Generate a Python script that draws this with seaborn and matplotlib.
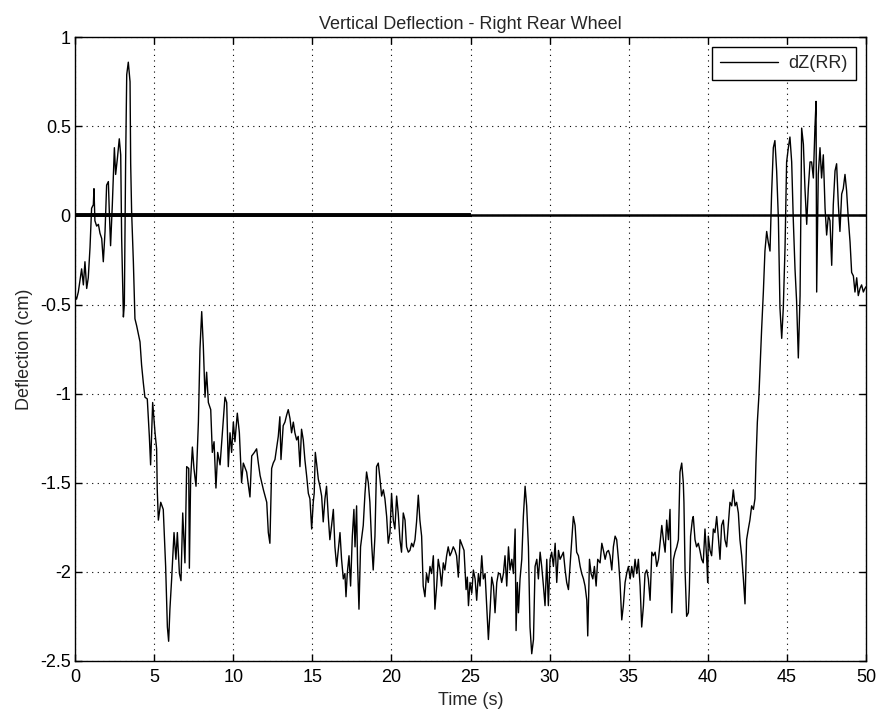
import matplotlib
matplotlib.use("Agg")
import matplotlib.pyplot as plt
import seaborn as sns
import pandas as pd

# Right rear wheel vertical deflection, sampled trace (time in s, deflection in cm)
t_start = [0.0, 0.1, 0.21, 0.32, 0.42, 0.53, 0.63, 0.74, 0.84, 0.95, 1.05, 1.16, 1.2, 1.26, 1.37,
           1.48, 1.58, 1.69, 1.79, 1.9, 2.0, 2.11, 2.17, 2.25, 2.36, 2.49, 2.57, 2.68, 2.8, 2.89,
           2.95, 3.06, 3.12, 3.2, 3.27, 3.37, 3.48, 3.52, 3.58, 3.69, 3.79]
v_start = [-0.45, -0.47, -0.43, -0.36, -0.30, -0.39, -0.26, -0.41, -0.35, -0.18, 0.04, 0.06, 0.15, -0.03, -0.06,
           -0.05, -0.10, -0.13, -0.26, -0.09, 0.17, 0.19, 0.02, -0.17, 0.06, 0.38, 0.23, 0.32, 0.43, 0.34,
           -0.13, -0.57, -0.50, 0.29, 0.79, 0.86, 0.75, 0.29, 0.02, -0.26, -0.58]

t_drop = [3.9, 4.11, 4.21, 4.32, 4.42, 4.57, 4.7, 4.78, 4.91, 5.06, 5.16, 5.2, 5.27, 5.42, 5.58,
          5.73, 5.84, 5.92, 6.0, 6.11, 6.26, 6.38, 6.47, 6.6, 6.7, 6.81, 6.95, 7.06, 7.19, 7.23,
          7.31, 7.42, 7.52, 7.65, 7.8, 7.9, 8.01, 8.11, 8.22, 8.32, 8.43, 8.58, 8.68, 8.79, 8.91,
          9.02, 9.17, 9.33, 9.48, 9.59, 9.69, 9.8, 9.9, 10.01, 10.11, 10.26, 10.39, 10.53, 10.64, 10.85,
          11.06, 11.17, 11.34, 11.48, 11.59, 11.7, 11.91, 12.12, 12.22]
v_drop = [-0.62, -0.71, -0.84, -0.94, -1.02, -1.03, -1.24, -1.40, -1.05, -1.22, -1.31, -1.54, -1.71, -1.61, -1.65,
          -1.97, -2.31, -2.39, -2.21, -2.04, -1.78, -1.93, -1.78, -2.01, -2.05, -1.67, -1.95, -1.41, -1.42, -1.98,
          -1.48, -1.30, -1.42, -1.52, -1.16, -0.75, -0.54, -0.73, -1.02, -0.88, -1.05, -1.09, -1.33, -1.27, -1.53,
          -1.33, -1.40, -1.20, -1.02, -1.05, -1.41, -1.22, -1.33, -1.16, -1.27, -1.11, -1.22, -1.50, -1.39, -1.44,
          -1.58, -1.35, -1.33, -1.31, -1.39, -1.46, -1.54, -1.61, -1.78]

t_mid = [12.32, 12.43, 12.53, 12.64, 12.74, 12.85, 12.95, 13.02, 13.16, 13.27, 13.38, 13.48, 13.59, 13.69, 13.8,
         13.9, 14.01, 14.11, 14.22, 14.32, 14.43, 14.53, 14.64, 14.75, 14.85, 14.96, 15.06, 15.12, 15.19, 15.27,
         15.38, 15.48, 15.59, 15.69, 15.8, 15.9, 16.01, 16.11, 16.22, 16.33, 16.43, 16.54, 16.64, 16.75, 16.85,
         16.96, 17.06, 17.13, 17.21, 17.32, 17.42, 17.53, 17.63, 17.7, 17.8, 17.86, 17.95, 18.05, 18.22, 18.33,
         18.43, 18.54, 18.64, 18.75, 18.85, 18.96, 19.06, 19.17, 19.28, 19.38, 19.49, 19.59, 19.7, 19.8, 19.91,
         20.01, 20.12, 20.22, 20.33, 20.43, 20.54, 20.64, 20.75, 20.86, 20.96, 21.07, 21.17, 21.28, 21.38, 21.49,
         21.59, 21.7, 21.8, 21.91, 22.01, 22.12, 22.22, 22.33, 22.44, 22.54, 22.65, 22.75, 22.86, 22.96, 23.07,
         23.17, 23.28, 23.38, 23.49, 23.59, 23.7, 23.8, 23.91, 24.02, 24.12, 24.23, 24.34]
v_mid = [-1.84, -1.42, -1.39, -1.37, -1.31, -1.24, -1.13, -1.37, -1.18, -1.16, -1.12, -1.09, -1.14, -1.22, -1.16,
         -1.22, -1.26, -1.24, -1.41, -1.20, -1.26, -1.37, -1.46, -1.56, -1.59, -1.76, -1.61, -1.56, -1.33, -1.39,
         -1.48, -1.52, -1.575, -1.72, -1.59, -1.52, -1.69, -1.82, -1.74, -1.65, -1.86, -1.97, -1.88, -1.78, -1.93,
         -2.04, -2.01, -2.14, -2.01, -1.91, -2.08, -1.80, -1.65, -1.86, -1.63, -1.95, -2.21, -1.86, -1.74, -1.56,
         -1.44, -1.50, -1.61, -1.84, -1.99, -1.80, -1.41, -1.39, -1.48, -1.575, -1.54, -1.59, -1.69, -1.84, -1.78,
         -1.56, -1.71, -1.76, -1.575, -1.67, -1.82, -1.89, -1.67, -1.71, -1.86, -1.89, -1.88, -1.84, -1.86, -1.82,
         -1.72, -1.57, -1.71, -1.80, -2.08, -2.14, -2.01, -2.06, -1.97, -2.01, -1.91, -2.21, -2.08, -1.93, -1.99,
         -2.08, -1.95, -1.99, -1.91, -1.86, -1.91, -1.89, -1.86, -1.88, -1.91, -2.03, -1.82]

t_low = [24.59, 24.72, 24.8, 24.87, 24.97, 25.08, 25.18, 25.29, 25.39, 25.5, 25.6, 25.71, 25.81, 25.92, 26.03,
         26.13, 26.24, 26.34, 26.45, 26.55, 26.66, 26.76, 26.87, 26.97, 27.08, 27.18, 27.29, 27.4, 27.5, 27.61,
         27.71, 27.82, 27.88, 27.96, 28.03, 28.13, 28.24, 28.34, 28.45, 28.55, 28.66, 28.76, 28.87, 28.98, 29.08,
         29.19, 29.29, 29.4, 29.5, 29.61, 29.71, 29.82, 29.92, 30.03, 30.13, 30.24, 30.35, 30.45, 30.56, 30.66,
         30.77, 30.87, 30.98, 31.08, 31.19, 31.29, 31.4, 31.5, 31.61, 31.71, 31.82, 31.93, 32.03, 32.14, 32.24,
         32.35, 32.41, 32.52, 32.62, 32.73, 32.83, 32.94, 33.04, 33.19, 33.3, 33.4, 33.51, 33.61, 33.72, 33.82,
         33.93, 34.03, 34.14, 34.24, 34.35, 34.45, 34.56, 34.66, 34.77, 34.87, 34.98, 35.09, 35.19, 35.3, 35.4,
         35.51, 35.61, 35.72, 35.82, 35.93, 36.03, 36.14, 36.24, 36.35, 36.46, 36.56, 36.67, 36.77, 36.88, 36.98,
         37.09, 37.19, 37.3, 37.4, 37.51, 37.61, 37.72, 37.83, 37.93, 38.04, 38.14]
v_low = [-1.88, -2.10, -2.03, -2.19, -2.06, -2.12, -1.99, -2.04, -2.16, -2.01, -2.08, -1.91, -2.04, -2.01, -2.21,
         -2.38, -2.21, -2.03, -2.08, -2.23, -2.06, -2.01, -2.01, -2.06, -2.01, -1.91, -2.08, -1.86, -1.99, -1.93,
         -2.01, -1.76, -2.33, -2.06, -2.23, -2.04, -1.93, -1.69, -1.52, -1.63, -1.86, -2.31, -2.46, -2.38, -1.97,
         -1.93, -2.04, -1.89, -1.97, -2.08, -2.19, -1.93, -2.19, -1.93, -1.89, -1.97, -1.84, -2.06, -1.88, -1.93,
         -1.91, -1.89, -1.99, -2.06, -2.10, -1.97, -1.82, -1.69, -1.74, -1.89, -1.91, -1.97, -2.01, -2.04, -2.08,
         -2.16, -2.36, -1.93, -2.01, -2.04, -1.97, -2.08, -1.93, -1.95, -1.84, -1.88, -1.93, -1.89, -1.88, -1.91,
         -1.99, -1.86, -1.80, -1.82, -1.93, -2.06, -2.27, -2.19, -2.06, -2.01, -1.97, -2.04, -1.97, -2.03, -1.93,
         -2.01, -1.93, -2.08, -2.31, -2.19, -2.01, -1.99, -2.04, -2.16, -1.89, -1.91, -1.89, -1.97, -1.93, -1.84,
         -1.74, -1.82, -1.89, -1.71, -1.82, -1.65, -2.23, -1.93, -1.89, -1.86, -1.82]

t_rise = [38.24, 38.35, 38.45, 38.49, 38.56, 38.66, 38.77, 38.83, 38.91, 39.02, 39.08, 39.19, 39.29, 39.4, 39.5,
          39.61, 39.71, 39.82, 39.93, 39.99, 40.03, 40.14, 40.24, 40.35, 40.45, 40.56, 40.66, 40.77, 40.87, 40.98,
          41.08, 41.19, 41.3, 41.4, 41.51, 41.61, 41.72, 41.82, 41.93, 42.03, 42.14, 42.24, 42.35, 42.45, 42.56,
          42.66, 42.77, 42.88, 42.98, 43.04, 43.13, 43.23]
v_rise = [-1.44, -1.39, -1.50, -1.61, -1.99, -2.25, -2.23, -2.10, -1.80, -1.71, -1.69, -1.82, -1.86, -1.84, -1.88,
          -1.93, -1.95, -1.76, -1.93, -2.06, -1.80, -1.88, -1.91, -1.76, -1.78, -1.69, -1.80, -1.93, -1.74, -1.71,
          -1.82, -1.86, -1.73, -1.61, -1.63, -1.54, -1.63, -1.61, -1.67, -1.82, -1.91, -2.03, -2.18, -1.82, -1.76,
          -1.71, -1.63, -1.65, -1.59, -1.39, -1.16, -1.01]

t_end = [43.3, 43.4, 43.51, 43.61, 43.72, 43.82, 43.93, 44.03, 44.14, 44.24, 44.35, 44.46, 44.56, 44.67, 44.77,
         44.88, 44.98, 45.09, 45.19, 45.3, 45.4, 45.51, 45.61, 45.72, 45.83, 45.93, 46.04, 46.14, 46.25, 46.35,
         46.46, 46.56, 46.67, 46.77, 46.84, 46.88, 46.98, 47.09, 47.19, 47.3, 47.41, 47.51, 47.62, 47.72, 47.83,
         47.93, 48.04, 48.14, 48.25, 48.35, 48.46, 48.56, 48.67, 48.77, 48.88, 48.99, 49.09, 49.2, 49.3, 49.41,
         49.51, 49.62, 49.72, 49.83, 49.93, 50.0]
v_end = [-0.86, -0.64, -0.43, -0.20, -0.09, -0.15, -0.20, 0.12, 0.38, 0.42, 0.25, -0.02, -0.52, -0.69, -0.52,
         -0.18, 0.30, 0.38, 0.44, 0.30, -0.02, -0.30, -0.48, -0.80, -0.45, 0.49, 0.40, 0.15, -0.05, 0.15,
         0.30, 0.30, 0.21, 0.49, 0.64, -0.43, 0.23, 0.38, 0.21, 0.34, 0.04, -0.11, 0.0, -0.03, -0.28,
         0.06, 0.25, 0.29, 0.06, -0.09, 0.12, 0.15, 0.23, 0.14, -0.02, -0.15, -0.32, -0.34, -0.43, -0.35,
         -0.45, -0.41, -0.39, -0.43, -0.41, -0.40]

x_ticks = [0, 5, 10, 15, 20, 25, 30, 35, 40, 45, 50]
y_ticks = [-2.5, -2, -1.5, -1, -0.5, 0, 0.5, 1]
y_tick_labels = ["-2.5", "-2", "-1.5", "-1", "-0.5", "0", "0.5", "1"]

time_s = t_start + t_drop + t_mid + t_low + t_rise + t_end
deflection_cm = v_start + v_drop + v_mid + v_low + v_rise + v_end
df = pd.DataFrame({"Time (s)": time_s, "Deflection (cm)": deflection_cm})

sns.set_theme(style="white")
plt.rcParams["font.family"] = ["Liberation Sans Narrow", "Liberation Sans", "DejaVu Sans"]

FS = 13
fig = plt.figure(figsize=(8.77, 7.16), dpi=100)
ax = fig.add_axes([0.0855, 0.077, 0.9020, 0.871])

# zero reference line, heavier over the first half
ax.plot([0, 25], [0, 0], color="black", lw=2.8, solid_capstyle="butt", zorder=3)
ax.plot([0, 50], [0, 0], color="black", lw=1.8, solid_capstyle="butt", zorder=3)

sns.lineplot(data=df, x="Time (s)", y="Deflection (cm)", color="black", lw=1.0,
             sort=False, estimator=None, ax=ax, label="dZ(RR)", zorder=4)

ax.set_xlim(0, 50)
ax.set_ylim(-2.5, 1)
ax.set_xticks(x_ticks)
ax.set_xticklabels([str(v) for v in x_ticks])
ax.set_yticks(y_ticks)
ax.set_yticklabels(y_tick_labels)

ax.grid(True, color="black", linestyle=(0, (1, 4)), linewidth=0.8)
for s in ax.spines.values():
    s.set_color("black")
    s.set_linewidth(1.0)
ax.tick_params(direction="in", length=5, width=1.0, colors="black", labelsize=FS,
               top=True, right=True, bottom=True, left=True, pad=3)
ax.tick_params(axis="x", pad=6)

ax.set_title("Vertical Deflection - Right Rear Wheel", fontsize=FS, pad=6)
ax.set_xlabel("Time (s)", fontsize=FS, labelpad=4)
ax.set_ylabel("Deflection (cm)", fontsize=FS, labelpad=5)

leg = ax.legend(loc="upper right", fontsize=FS, frameon=True, fancybox=False,
                handlelength=3.2, borderaxespad=0.55, borderpad=0.45, handletextpad=0.6)
leg.get_frame().set_edgecolor("black")
leg.get_frame().set_linewidth(1.0)
leg.get_frame().set_alpha(1.0)

fig.savefig("out.png", dpi=100, facecolor="white")
